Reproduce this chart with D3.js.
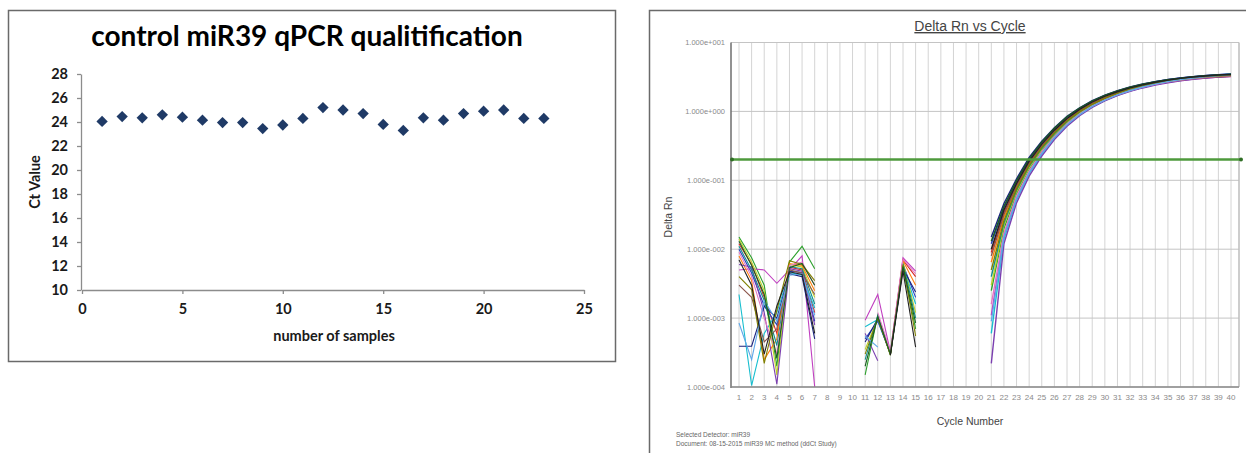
<!DOCTYPE html>
<html>
<head>
<meta charset="utf-8">
<script src="https://cdn.jsdelivr.net/npm/d3@7"></script>
<style>
  body { margin: 0; background: #fff; }
  svg { display: block; }
</style>
</head>
<body>
<div id="chart"></div>
<script>
// left chart data: Ct value per sample
var samples = [1, 2, 3, 4, 5, 6, 7, 8, 9, 10, 11, 12, 13, 14, 15, 16, 17, 18, 19, 20, 21, 22, 23];
var ctValues = [24.05, 24.45, 24.35, 24.6, 24.4, 24.15, 23.95, 23.95, 23.45, 23.75, 24.3, 25.2, 25.0, 24.7,
                23.8, 23.3, 24.35, 24.15, 24.7, 24.9, 25.0, 24.3, 24.3];
var ctTicks = [10, 12, 14, 16, 18, 20, 22, 24, 26, 28];
var sampleTicks = [0, 5, 10, 15, 20, 25];

// right chart data: delta Rn per well per cycle
var cycles = [1, 2, 3, 4, 5, 6, 7, 8, 9, 10, 11, 12, 13, 14, 15, 16, 17, 18, 19, 20,
              21, 22, 23, 24, 25, 26, 27, 28, 29, 30, 31, 32, 33, 34, 35, 36, 37, 38, 39, 40];
var earlyCycles = [1, 2, 3, 4, 5, 6, 7];
var midCycles = [11, 12, 13, 14, 15];
var ampCycles = [21, 22, 23, 24, 25, 26, 27, 28, 29, 30, 31, 32, 33, 34, 35, 36, 37, 38, 39, 40];
var rnTicks = [1e1, 1e0, 1e-1, 1e-2, 1e-3, 1e-4];
var rnTickLabels = ["1.000e+001", "1.000e+000", "1.000e-001", "1.000e-002", "1.000e-003", "1.000e-004"];
var threshold = [0.2];

var wellColors = ["#d62728", "#2340c0", "#2ca02c", "#c03fc0", "#17becf", "#bcd22a", "#ff7f0e", "#7b3fb0",
                  "#1a237e", "#138d8d", "#8c564b", "#e377c2", "#808000", "#5fa8e8", "#1b5e20", "#222222"];

var earlyRn = [
  [1.2e-2, 6.0e-3, 2.0e-3, 6.0e-4, 5.5e-3, 5.0e-3, 1.2e-3],
  [1.0e-2, 4.5e-3, 1.5e-3, 8.0e-4, 4.8e-3, 4.6e-3, 9.0e-4],
  [1.5e-2, 7.5e-3, 3.0e-3, 2.0e-4, 6.5e-3, 1.1e-2, 5.2e-3],
  [5.0e-3, 5.2e-3, 5.0e-3, 3.2e-3, 5.0e-3, 8.0e-3, 1.0e-4],
  [2.2e-3, 1.05e-4, 6.0e-4, 1.2e-3, 4.6e-3, 4.2e-3, 1.4e-3],
  [1.4e-2, 6.5e-3, 2.5e-3, 1.5e-4, 6.0e-3, 5.5e-3, 2.0e-3],
  [8.0e-3, 3.5e-3, 2.5e-4, 5.0e-4, 6.2e-3, 5.8e-3, 2.5e-3],
  [6.0e-3, 5.5e-3, 1.2e-3, 1.1e-4, 5.2e-3, 4.8e-3, 8.0e-4],
  [3.9e-4, 3.9e-4, 1.5e-3, 1.0e-3, 4.4e-3, 4.0e-3, 5.0e-4],
  [1.1e-2, 5.0e-3, 1.8e-3, 4.0e-4, 5.6e-3, 5.2e-3, 1.6e-3],
  [3.0e-3, 2.0e-3, 4.5e-4, 7.0e-4, 5.0e-3, 4.5e-3, 2.2e-3],
  [9.0e-3, 4.0e-3, 1.0e-3, 3.0e-4, 5.8e-3, 6.5e-3, 3.0e-3],
  [4.0e-3, 2.6e-3, 2.2e-4, 1.3e-3, 6.8e-3, 6.0e-3, 3.5e-3],
  [8.5e-4, 2.5e-4, 1.8e-3, 9.0e-4, 4.2e-3, 4.4e-3, 1.1e-3],
  [1.3e-2, 5.8e-3, 2.2e-3, 2.6e-4, 5.4e-3, 6.2e-3, 3.0e-3],
  [7.0e-3, 3.0e-3, 3.0e-4, 1.5e-3, 4.7e-3, 4.3e-3, 6.0e-4]
];

var midRn = [
  [null, 1.0e-3, 3.0e-4, 7.0e-3, 4.0e-3],
  [5.0e-4, 9.0e-4, 3.1e-4, 6.0e-3, 2.0e-3],
  [1.5e-4, 1.1e-3, 2.9e-4, 5.5e-3, 7.0e-4],
  [9.3e-4, 2.2e-3, 3.2e-4, 7.5e-3, 4.8e-3],
  [7.5e-4, 9.5e-4, 3.0e-4, 5.8e-3, 1.6e-3],
  [3.5e-4, 1.0e-3, 3.1e-4, 6.5e-3, 1.2e-3],
  [null, 1.05e-3, 3.0e-4, 6.8e-3, 3.0e-3],
  [6.0e-4, 2.4e-4, null, null, null],
  [4.5e-4, 9.8e-4, 3.0e-4, 5.2e-3, 2.4e-3],
  [2.5e-4, 1.1e-3, 3.1e-4, 6.2e-3, 1.0e-3],
  [null, null, null, null, null],
  [null, 1.2e-3, 3.3e-4, 7.2e-3, 4.4e-3],
  [3.0e-4, 1.0e-3, 2.9e-4, 6.0e-3, 5.5e-4],
  [5.5e-4, 3.8e-4, null, null, null],
  [2.0e-4, 1.05e-3, 3.0e-4, 5.6e-3, 8.5e-4],
  [null, null, 2.9e-4, 4.8e-3, 3.8e-4]
];

var ampRn = [
  [9.0e-3, 3.4e-2, 8.6e-2, 1.8e-1, 3.2e-1, 5.1e-1, 7.6e-1, 1.03, 1.30, 1.58, 1.85, 2.10, 2.33, 2.54, 2.72, 2.88, 3.01, 3.11, 3.19, 3.25],
  [1.2e-2, 4.0e-2, 9.6e-2, 2.0e-1, 3.5e-1, 5.6e-1, 8.2e-1, 1.10, 1.40, 1.69, 1.97, 2.23, 2.47, 2.69, 2.88, 3.05, 3.19, 3.31, 3.41, 3.49],
  [2.5e-3, 2.0e-2, 6.4e-2, 1.45e-1, 2.7e-1, 4.45e-1, 6.75e-1, 9.4e-1, 1.21, 1.49, 1.77, 2.03, 2.27, 2.49, 2.68, 2.85, 2.99, 3.11, 3.21, 3.28],
  [1.1e-3, 1.6e-2, 5.6e-2, 1.3e-1, 2.5e-1, 4.2e-1, 6.45e-1, 9.05e-1, 1.18, 1.46, 1.73, 1.99, 2.23, 2.45, 2.64, 2.81, 2.95, 3.06, 3.14, 3.20],
  [6.0e-4, 1.4e-2, 5.2e-2, 1.25e-1, 2.4e-1, 4.1e-1, 6.35e-1, 8.95e-1, 1.17, 1.45, 1.73, 1.99, 2.24, 2.47, 2.67, 2.85, 3.01, 3.15, 3.27, 3.36],
  [3.0e-3, 2.2e-2, 6.8e-2, 1.52e-1, 2.8e-1, 4.6e-1, 6.95e-1, 9.6e-1, 1.24, 1.52, 1.80, 2.07, 2.32, 2.55, 2.75, 2.93, 3.09, 3.23, 3.34, 3.43],
  [6.5e-3, 2.9e-2, 7.9e-2, 1.7e-1, 3.05e-1, 4.95e-1, 7.4e-1, 1.01, 1.29, 1.57, 1.85, 2.11, 2.35, 2.57, 2.76, 2.93, 3.07, 3.19, 3.28, 3.35],
  [2.2e-4, 1.2e-2, 4.7e-2, 1.15e-1, 2.25e-1, 3.9e-1, 6.1e-1, 8.65e-1, 1.14, 1.42, 1.69, 1.95, 2.19, 2.41, 2.61, 2.78, 2.93, 3.05, 3.15, 3.22],
  [1.5e-2, 4.6e-2, 1.05e-1, 2.15e-1, 3.7e-1, 5.8e-1, 8.5e-1, 1.13, 1.43, 1.72, 2.00, 2.26, 2.50, 2.71, 2.90, 3.06, 3.20, 3.32, 3.41, 3.48],
  [4.0e-3, 2.4e-2, 7.2e-2, 1.6e-1, 2.9e-1, 4.75e-1, 7.15e-1, 9.8e-1, 1.26, 1.55, 1.83, 2.10, 2.35, 2.58, 2.78, 2.96, 3.12, 3.26, 3.37, 3.46],
  [8.0e-3, 3.2e-2, 8.3e-2, 1.76e-1, 3.15e-1, 5.05e-1, 7.5e-1, 1.02, 1.29, 1.56, 1.83, 2.08, 2.31, 2.52, 2.70, 2.86, 2.99, 3.09, 3.17, 3.22],
  [1.6e-3, 1.7e-2, 5.9e-2, 1.36e-1, 2.58e-1, 4.3e-1, 6.55e-1, 9.15e-1, 1.19, 1.47, 1.75, 2.01, 2.26, 2.48, 2.68, 2.85, 3.00, 3.12, 3.22, 3.29],
  [5.0e-3, 2.6e-2, 7.5e-2, 1.65e-1, 2.98e-1, 4.85e-1, 7.25e-1, 9.9e-1, 1.27, 1.55, 1.83, 2.09, 2.33, 2.55, 2.74, 2.91, 3.05, 3.17, 3.26, 3.33],
  [9.0e-4, 1.5e-2, 5.4e-2, 1.28e-1, 2.45e-1, 4.15e-1, 6.4e-1, 9.0e-1, 1.18, 1.46, 1.74, 2.01, 2.26, 2.49, 2.70, 2.89, 3.05, 3.20, 3.32, 3.42],
  [1.3e-2, 4.2e-2, 9.9e-2, 2.05e-1, 3.58e-1, 5.68e-1, 8.35e-1, 1.12, 1.41, 1.70, 1.98, 2.24, 2.48, 2.69, 2.88, 3.04, 3.18, 3.29, 3.38, 3.45],
  [1.0e-2, 3.7e-2, 9.0e-2, 1.9e-1, 3.35e-1, 5.35e-1, 7.9e-1, 1.07, 1.36, 1.65, 1.93, 2.19, 2.43, 2.65, 2.84, 3.01, 3.15, 3.27, 3.37, 3.44]
];

var svg = d3.select("#chart").append("svg")
    .attr("width", 1246)
    .attr("height", 453);

// ---------- left: control miR39 scatter ----------
var left = svg.append("g");
left.append("rect")
    .attr("x", 8.5).attr("y", 10.5)
    .attr("width", 607).attr("height", 351)
    .attr("fill", "#fff").attr("stroke", "#6a6a6a").attr("stroke-width", 1.5);

var xS = d3.scaleLinear().domain([0, 25]).range([82, 584]);
var yS = d3.scaleLinear().domain([10, 28]).range([290, 74]);

var xAx = left.append("g")
    .attr("transform", "translate(0,290)")
    .call(d3.axisBottom(xS).tickValues(sampleTicks).tickSize(4).tickSizeOuter(0).tickPadding(10));
var yAx = left.append("g")
    .attr("transform", "translate(81,0)")
    .call(d3.axisLeft(yS).tickValues(ctTicks).tickSize(4).tickSizeOuter(0).tickPadding(9));
[xAx, yAx].forEach(function(a) {
  a.select(".domain").attr("stroke", "#8c8c8c").attr("stroke-width", 1.3);
  a.selectAll(".tick line").attr("stroke", "#8c8c8c").attr("stroke-width", 1.3);
  a.selectAll("text")
    .attr("font-family", "Lato, sans-serif")
    .attr("font-weight", "bold")
    .attr("font-size", 14.5)
    .attr("fill", "#1a1a1a");
});

left.selectAll(".pt")
  .data(samples)
  .enter().append("path")
    .attr("class", "pt")
    .attr("d", d3.symbol(d3.symbolSquare, 64))
    .attr("transform", function(d, i) {
      return "translate(" + xS(d) + "," + yS(ctValues[i]) + ") rotate(45)";
    })
    .attr("fill", "#1f3a66");

left.append("text")
    .attr("x", 307).attr("y", 46)
    .attr("text-anchor", "middle")
    .attr("font-family", "Lato, sans-serif").attr("font-weight", "bold").attr("font-size", 28)
    .attr("fill", "#000")
    .text("control miR39 qPCR qualitification");
left.append("text")
    .attr("transform", "translate(40,182) rotate(-90)")
    .attr("text-anchor", "middle")
    .attr("font-family", "Lato, sans-serif").attr("font-weight", "bold").attr("font-size", 14.5)
    .attr("fill", "#1a1a1a")
    .text("Ct Value");
left.append("text")
    .attr("x", 334).attr("y", 341)
    .attr("text-anchor", "middle")
    .attr("font-family", "Lato, sans-serif").attr("font-weight", "bold").attr("font-size", 14.5)
    .attr("fill", "#1a1a1a")
    .text("number of samples");

// ---------- right: amplification plot ----------
var right = svg.append("g");
right.append("rect")
    .attr("x", 649.5).attr("y", 10.5)
    .attr("width", 620).attr("height", 460)
    .attr("fill", "#fff").attr("stroke", "#6a6a6a").attr("stroke-width", 1.5);

var plotL = 731, plotR = 1239, plotT = 42.5, plotB = 387;
var cx = d3.scaleLinear().domain([1, 40]).range([739, 1231]);
var ly = d3.scaleLog().domain([1e-4, 10]).range([plotB, plotT]);
var font2 = "'Liberation Sans', Arial, sans-serif";

// grid
right.selectAll(".vgrid")
  .data(cycles)
  .enter().append("line")
    .attr("x1", function(d) { return cx(d); }).attr("x2", function(d) { return cx(d); })
    .attr("y1", plotT).attr("y2", plotB)
    .attr("stroke", "#d4d4d4").attr("stroke-width", 1);
right.selectAll(".hgrid")
  .data(rnTicks)
  .enter().append("line")
    .attr("x1", plotL).attr("x2", plotR)
    .attr("y1", function(d) { return ly(d); }).attr("y2", function(d) { return ly(d); })
    .attr("stroke", "#c4c4c4").attr("stroke-width", 1);
right.append("line")
    .attr("x1", plotR).attr("x2", plotR).attr("y1", plotT).attr("y2", plotB)
    .attr("stroke", "#bdbdbd").attr("stroke-width", 1.5);

// curves
right.append("clipPath").attr("id", "plotclip")
  .append("rect").attr("x", plotL).attr("y", plotT - 2).attr("width", plotR - plotL).attr("height", plotB - plotT + 2);
var curves = right.append("g").attr("clip-path", "url(#plotclip)");
var line = d3.line()
    .defined(function(d) { return d[1] != null; })
    .x(function(d) { return cx(d[0]); })
    .y(function(d) { return ly(d[1]); });

function drawSet(xs, rows, w) {
  rows.forEach(function(row, i) {
    curves.append("path")
        .datum(xs.map(function(c, j) { return [c, row[j]]; }))
        .attr("fill", "none")
        .attr("stroke", wellColors[i])
        .attr("stroke-width", w)
        .attr("d", line);
  });
}
drawSet(earlyCycles, earlyRn, 1.1);
drawSet(midCycles, midRn, 1.1);
drawSet(ampCycles, ampRn, 1.4);

// axes lines
right.append("line")
    .attr("x1", plotL).attr("x2", plotL).attr("y1", plotT).attr("y2", plotB + 1)
    .attr("stroke", "#6e6e6e").attr("stroke-width", 1.5);
right.append("line")
    .attr("x1", plotL).attr("x2", plotR).attr("y1", plotB).attr("y2", plotB)
    .attr("stroke", "#8a8a8a").attr("stroke-width", 1.5);

// threshold
right.selectAll(".thr")
  .data(threshold)
  .enter().append("line")
    .attr("x1", plotL).attr("x2", plotR + 2)
    .attr("y1", function(d) { return ly(d); }).attr("y2", function(d) { return ly(d); })
    .attr("stroke", "#4e9a3c").attr("stroke-width", 2.6);
right.selectAll(".thrdot")
  .data([plotL + 1, plotR + 2])
  .enter().append("circle")
    .attr("cx", function(d) { return d; })
    .attr("cy", ly(threshold[0]))
    .attr("r", 2)
    .attr("fill", "#2f6e25");

// tick labels
right.selectAll(".ylab")
  .data(rnTicks)
  .enter().append("text")
    .attr("x", 725)
    .attr("y", function(d) { return ly(d); })
    .attr("dy", "0.35em")
    .attr("text-anchor", "end")
    .attr("font-family", font2).attr("font-size", 7.5)
    .attr("fill", "#8a8a8a")
    .text(function(d, i) { return rnTickLabels[i]; });
right.selectAll(".xlab")
  .data(cycles)
  .enter().append("text")
    .attr("x", function(d) { return cx(d); })
    .attr("y", 400)
    .attr("text-anchor", "middle")
    .attr("font-family", font2).attr("font-size", 8)
    .attr("fill", "#8a8a8a")
    .text(function(d) { return d; });

right.append("text")
    .attr("x", 970).attr("y", 31)
    .attr("text-anchor", "middle")
    .attr("font-family", font2).attr("font-size", 14)
    .attr("text-decoration", "underline")
    .attr("fill", "#444")
    .text("Delta Rn vs Cycle");
right.append("text")
    .attr("x", 970).attr("y", 424.5)
    .attr("text-anchor", "middle")
    .attr("font-family", font2).attr("font-size", 10.5)
    .attr("fill", "#444")
    .text("Cycle Number");
right.append("text")
    .attr("transform", "translate(672,217) rotate(-90)")
    .attr("text-anchor", "middle")
    .attr("font-family", font2).attr("font-size", 10.5)
    .attr("fill", "#444")
    .text("Delta Rn");
right.append("text")
    .attr("x", 676).attr("y", 437)
    .attr("font-family", font2).attr("font-size", 6.5)
    .attr("fill", "#666")
    .text("Selected Detector: miR39");
right.append("text")
    .attr("x", 676).attr("y", 446)
    .attr("font-family", font2).attr("font-size", 6.5)
    .attr("fill", "#666")
    .text("Document: 08-15-2015 miR39 MC method (ddCt Study)");
</script>
</body>
</html>
